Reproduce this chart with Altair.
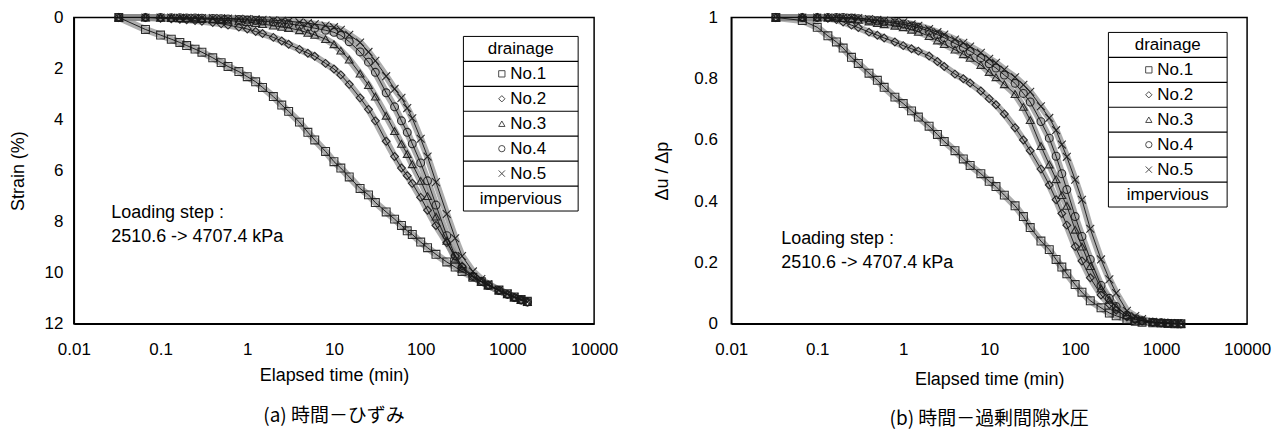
import altair as alt
import pandas as pd

# ---------------- data ----------------
TIME_MIN = [0.033, 0.067, 0.1, 0.133, 0.167, 0.2, 0.25, 0.3, 0.4, 0.5,
            0.6, 0.8, 1, 1.25, 1.5, 2, 2.5, 3, 4, 5,
            6, 8, 10, 12, 15, 20, 25, 30, 40, 50,
            60, 70, 80, 100, 120, 150, 200, 250, 300, 400,
            500, 600, 800, 1000, 1200, 1440, 1700]

STRAIN_NO1 = [0, 0.47, 0.69, 0.85, 0.98, 1.1, 1.24, 1.36, 1.58, 1.77,
              1.92, 2.12, 2.32, 2.52, 2.74, 3.1, 3.43, 3.68, 4.1, 4.5,
              4.8, 5.25, 5.65, 5.9, 6.25, 6.7, 6.95, 7.25, 7.62, 7.9,
              8.15, 8.36, 8.5, 8.8, 9.02, 9.28, 9.58, 9.78, 9.95, 10.18,
              10.35, 10.48, 10.68, 10.82, 10.95, 11.05, 11.12]
STRAIN_NO2 = [0, 0, 0.03, 0.05, 0.07, 0.09, 0.12, 0.15, 0.2, 0.25,
              0.3, 0.38, 0.45, 0.55, 0.63, 0.78, 0.92, 1.05, 1.25, 1.4,
              1.52, 1.8, 2.02, 2.25, 2.62, 3.15, 3.6, 4.05, 4.85, 5.45,
              5.9, 6.2, 6.5, 7.05, 7.55, 8.15, 8.82, 9.35, 9.75, 10.12,
              10.33, 10.48, 10.7, 10.85, 10.97, 11.07, 11.15]
STRAIN_NO3 = [0, 0, 0.01, 0.02, 0.03, 0.04, 0.05, 0.06, 0.08, 0.1,
              0.12, 0.15, 0.18, 0.22, 0.26, 0.32, 0.37, 0.41, 0.5, 0.6,
              0.68, 0.85, 1.05, 1.3, 1.65, 2.2, 2.65, 3.1, 3.85, 4.45,
              4.95, 5.35, 5.75, 6.4, 7.0, 7.8, 8.75, 9.45, 9.85, 10.15,
              10.35, 10.5, 10.7, 10.85, 10.97, 11.07, 11.15]
STRAIN_NO4 = [0, 0, 0, 0.01, 0.01, 0.02, 0.02, 0.03, 0.04, 0.05,
              0.06, 0.08, 0.1, 0.12, 0.14, 0.18, 0.22, 0.25, 0.31, 0.37,
              0.42, 0.5, 0.58, 0.7, 0.95, 1.35, 1.75, 2.15, 2.95, 3.5,
              4.05, 4.5, 4.95, 5.7, 6.4, 7.35, 8.55, 9.35, 9.8, 10.15,
              10.35, 10.5, 10.7, 10.85, 10.97, 11.07, 11.15]
STRAIN_NO5 = [0, 0, 0, 0, 0.01, 0.01, 0.01, 0.02, 0.02, 0.03,
              0.04, 0.05, 0.06, 0.07, 0.09, 0.11, 0.13, 0.15, 0.19, 0.22,
              0.26, 0.32, 0.38, 0.48, 0.68, 0.98, 1.35, 1.7, 2.3, 2.8,
              3.15, 3.55, 3.95, 4.75, 5.45, 6.45, 7.7, 8.65, 9.35, 9.95,
              10.25, 10.45, 10.68, 10.83, 10.95, 11.05, 11.15]

PORE_NO1 = [1.0, 0.99, 0.968, 0.94, 0.92, 0.9, 0.87, 0.85, 0.818, 0.795,
            0.772, 0.74, 0.719, 0.695, 0.675, 0.645, 0.618, 0.595, 0.565, 0.538,
            0.517, 0.49, 0.465, 0.448, 0.42, 0.385, 0.35, 0.314, 0.27, 0.242,
            0.21, 0.185, 0.163, 0.128, 0.103, 0.075, 0.052, 0.035, 0.026, 0.014,
            0.008, 0.005, 0.003, 0.002, 0.001, 0.0, 0.0]
PORE_NO2 = [1, 1, 1.0, 0.997, 0.993, 0.985, 0.975, 0.967, 0.952, 0.942,
            0.933, 0.92, 0.908, 0.898, 0.89, 0.874, 0.856, 0.84, 0.815, 0.8,
            0.786, 0.76, 0.735, 0.715, 0.685, 0.64, 0.6, 0.565, 0.505, 0.453,
            0.405, 0.36, 0.322, 0.252, 0.205, 0.15, 0.094, 0.063, 0.044, 0.022,
            0.013, 0.009, 0.005, 0.003, 0.002, 0.001, 0.0]
PORE_NO3 = [1, 1, 1, 1, 1, 0.998, 0.995, 0.992, 0.987, 0.982,
            0.978, 0.973, 0.968, 0.96, 0.953, 0.939, 0.925, 0.913, 0.895, 0.88,
            0.868, 0.845, 0.822, 0.805, 0.782, 0.75, 0.708, 0.665, 0.58, 0.52,
            0.472, 0.42, 0.385, 0.307, 0.252, 0.188, 0.115, 0.078, 0.055, 0.028,
            0.016, 0.01, 0.005, 0.003, 0.002, 0.001, 0.0]
PORE_NO4 = [1, 1, 1, 1, 1, 1, 0.998, 0.996, 0.992, 0.989,
            0.986, 0.982, 0.978, 0.972, 0.967, 0.956, 0.944, 0.934, 0.915, 0.902,
            0.89, 0.868, 0.849, 0.835, 0.812, 0.785, 0.752, 0.724, 0.66, 0.606,
            0.547, 0.49, 0.438, 0.35, 0.285, 0.21, 0.125, 0.083, 0.056, 0.028,
            0.016, 0.01, 0.005, 0.003, 0.002, 0.001, 0.0]
PORE_NO5 = [1, 1, 1, 1, 1, 1, 1, 0.998, 0.995, 0.992,
            0.99, 0.987, 0.984, 0.978, 0.973, 0.962, 0.952, 0.944, 0.928, 0.917,
            0.905, 0.885, 0.865, 0.852, 0.83, 0.805, 0.78, 0.757, 0.71, 0.672,
            0.632, 0.585, 0.545, 0.47, 0.405, 0.31, 0.21, 0.145, 0.1, 0.042,
            0.025, 0.015, 0.006, 0.003, 0.002, 0.001, 0.0]

SERIES = ["No.1", "No.2", "No.3", "No.4", "No.5"]
X_TICKS = [0.01, 0.1, 1, 10, 100, 1000, 10000]
STRAIN_TICKS = [0, 2, 4, 6, 8, 10, 12]
PORE_TICKS = [0, 0.2, 0.4, 0.6, 0.8, 1]

# ---------------- styling ----------------
SHAPES = ["square", "diamond", "triangle-up", "circle", "M-1,-1L1,1M-1,1L1,-1"]
FONT = "Liberation Sans"
CJK = "Noto Sans CJK JP"
ONE = pd.DataFrame({"k": [0]})


def long_table(series_values):
    rows = []
    for name, vals in zip(SERIES, series_values):
        for t, v in zip(TIME_MIN, vals):
            rows.append({"t": t, "v": v, "series": name})
    return pd.DataFrame(rows)


def vtext(text, x, y, size=17, align="left", font=FONT):
    return alt.Chart(ONE).mark_text(
        text=text, font=font, fontSize=size, align=align, baseline="middle", color="black"
    ).encode(x=alt.value(x), y=alt.value(y))


def legend_layers(x0, x1, y0, row_h):
    cx = (x0 + x1) / 2
    layers = [alt.Chart(ONE).mark_rect(fill="white", stroke="black", strokeWidth=1).encode(
        x=alt.value(x0), x2=alt.value(x1), y=alt.value(y0), y2=alt.value(y0 + 7 * row_h))]
    for i in range(1, 7):
        layers.append(alt.Chart(ONE).mark_rule(color="black", strokeWidth=1.2).encode(
            x=alt.value(x0), x2=alt.value(x1), y=alt.value(y0 + i * row_h)))
    layers.append(vtext("drainage", cx, y0 + 0.5 * row_h, align="center"))
    for i, (name, shp) in enumerate(zip(SERIES, SHAPES)):
        yc = y0 + (i + 1.5) * row_h
        layers.append(alt.Chart(ONE).mark_point(shape=shp, filled=False, size=40, color="black",
                                                strokeWidth=1).encode(x=alt.value(cx - 19), y=alt.value(yc)))
        layers.append(vtext(name, cx - 10.5, yc))
    layers.append(vtext("impervious", cx, y0 + 6.5 * row_h, align="center"))
    return layers


H = 307


def panel(values, ytitle, ydomain, yreverse, yticks, yfmt, ytitle_x, ylabel_pad, xtitle_y,
          width, legend, notes, caption, caption_y, pins):
    df = long_table(values)
    x = alt.X("t:Q", scale=alt.Scale(type="log", domain=[0.01, 10000], nice=False),
              axis=alt.Axis(values=X_TICKS, format="~g", title="Elapsed time (min)", labelPadding=18,
                            titleY=xtitle_y, titleBaseline="alphabetic", labelFlush=False))
    y = alt.Y("v:Q", scale=alt.Scale(domain=ydomain, reverse=yreverse, nice=False, zero=False),
              axis=alt.Axis(values=yticks, format=yfmt, title=ytitle, labelPadding=ylabel_pad,
                            titleX=ytitle_x, titleBaseline="alphabetic", labelFlush=False))
    band = alt.Chart(df).mark_line(color="#8a8a8a", strokeWidth=7, opacity=0.7).encode(
        x=x, y=y, detail="series:N")
    core = alt.Chart(df).mark_line(color="#111", strokeWidth=0.9).encode(
        x=x, y=y, detail="series:N")
    pts = alt.Chart(df).mark_point(filled=False, size=62, strokeWidth=1.1, color="#1a1a1a", opacity=0.9).encode(
        x=x, y=y,
        shape=alt.Shape("series:N", scale=alt.Scale(domain=SERIES, range=SHAPES), legend=None))
    layers = [band, core, pts]
    layers += legend_layers(*legend)
    layers.append(vtext("Loading step :", notes[0], notes[1], size=18))
    layers.append(vtext("2510.6 ->  4707.4 kPa", notes[0], notes[1] + 24, size=18))
    layers.append(vtext(caption, width / 2, caption_y, size=19, align="center", font=CJK))
    for (px, py) in pins:
        layers.append(alt.Chart(ONE).mark_rect(opacity=0).encode(
            x=alt.value(px), x2=alt.value(px + 1), y=alt.value(py), y2=alt.value(py + 1)))
    return alt.layer(*layers).properties(width=width, height=H)


left = panel([STRAIN_NO1, STRAIN_NO2, STRAIN_NO3, STRAIN_NO4, STRAIN_NO5],
             "Strain (%)", [0, 12], True, STRAIN_TICKS, "d", -50.5, 11, 57,
             521.5, (390.5, 505.5, 19, 25), (37.5, 196), "(a)  時間－ひずみ", 399,
             [(-72.5, -16)])
right = panel([PORE_NO1, PORE_NO2, PORE_NO3, PORE_NO4, PORE_NO5],
              "Δu / Δp", [0, 1], False, PORE_TICKS, "~g", -64, 14, 61,
              517, (378, 497, 15, 25), (50, 222), "(b)  時間－過剰間隙水圧", 402,
              [(553, 417)])

chart = alt.hconcat(left, right, spacing=137, bounds="flush").properties(padding=0).configure_axis(
    labelFont=FONT, labelFontSize=17, labelColor="black", titleFont=FONT, titleFontSize=18,
    titleFontWeight="normal", titleColor="black", domainColor="black", domainWidth=1.5,
    ticks=False, tickSize=0, grid=False
).configure_view(stroke="black", strokeWidth=1.5)

chart.save("out.html", embed_options={"renderer": "svg", "actions": False})
